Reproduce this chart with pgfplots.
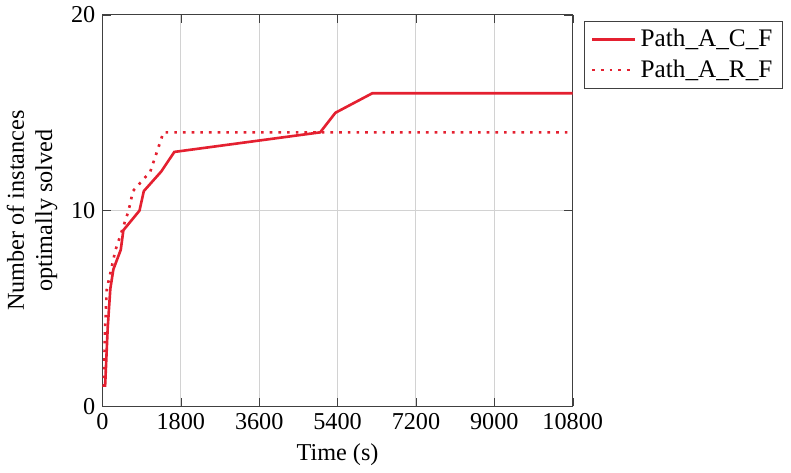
\documentclass[border=0pt]{standalone}
\usepackage{fontspec}
\setmainfont{Liberation Serif}
\usepackage{pgfplots}
\pgfplotsset{compat=1.18}
\definecolor{myred}{RGB}{228,32,48}
\begin{document}
\begin{tikzpicture}
\begin{axis}[
  scale only axis,
  width=233pt, height=194pt,
  xmin=0, xmax=10800, ymin=0, ymax=20,
  xtick={0,1800,3600,5400,7200,9000,10800},
  ytick={0,10,20},
  grid=major,
  major grid style={gray!35, line width=0.5pt},
  axis line style={black!75},
  tick style={black!75},
  xticklabel style={/pgf/number format/fixed, /pgf/number format/1000 sep={}},
  scaled x ticks=false,
  /pgf/number format/assume math mode=true,
  font=\fontsize{12}{14}\selectfont,
  xlabel={Time (s)},
  ylabel={Number of instances\\optimally solved},
  ylabel style={align=center},
  legend style={at={(1.025,0.985)}, anchor=north west, draw=black!75, font=\fontsize{12.5}{14}\selectfont, row sep=1pt, inner xsep=3pt},
  legend cell align=left,
  legend image code/.code={\draw[#1] (0cm,0cm) -- (0.75cm,0cm);},
]
\addplot[myred, line width=1.3pt] coordinates {
 (60,1) (120,4) (180,6) (250,7) (420,8) (480,9) (850,10) (950,11) (1350,12) (1650,13) (5000,14) (5350,15) (6200,16) (10800,16)
};
\addlegendentry{Path\_A\_C\_F}
\addplot[myred, line width=1.3pt, dash pattern={on 1.3pt off 3pt}] coordinates {
 (30,1) (60,4) (100,6) (200,7) (300,8) (450,9) (600,10) (700,11) (1100,12) (1250,13) (1400,14) (10800,14)
};
\addlegendentry{Path\_A\_R\_F}
\end{axis}
\path (current bounding box.east) ++(4pt,0) coordinate (padR);
\path (padR) -- (padR);
\end{tikzpicture}
\end{document}
